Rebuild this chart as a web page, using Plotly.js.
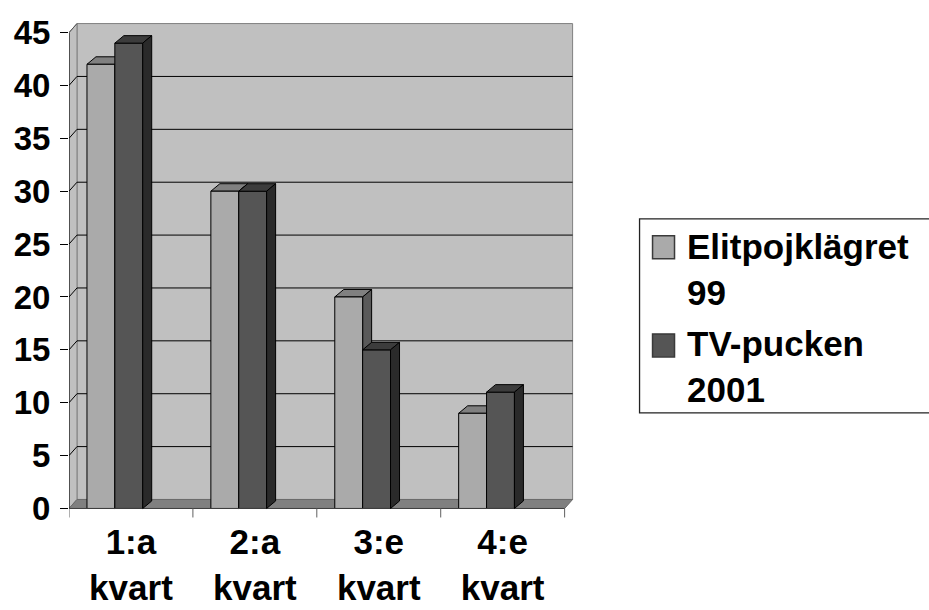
<!DOCTYPE html>
<html><head><meta charset="utf-8">
<script src="https://cdn.plot.ly/plotly-3.0.1.min.js"></script>
<style>html,body{margin:0;padding:0;background:#fff}#chart{width:929px;height:610px}</style>
</head><body><div id="chart"></div>
<script>
// ---- data ----
const categories = ["1:a<br>kvart", "2:a<br>kvart", "3:e<br>kvart", "4:e<br>kvart"];
const seriesNames = ["Elitpojklägret<br>99", "TV-pucken<br>2001"];
const elitValues = [42, 30, 20, 9];
const tvValues = [44, 30, 15, 11];
const yTickVals = [0, 5, 10, 15, 20, 25, 30, 35, 40, 45];
const yTickText = ["0", "5", "10", "15", "20", "25", "30", "35", "40", "45"];

// ---- layout geometry ----
const W = 929, H = 610;
const mL = 69, mT = 22.3, mB = 92, mR = 351.6;
const xRange = [-0.5, 3.6], yRange = [-0.9, 46];
const plotW = W - mL - mR, plotH = H - mT - mB;
const pxX = plotW / (xRange[1] - xRange[0]);
const pxY = plotH / (yRange[1] - yRange[0]);
const wallDx = 8 / pxX, wallDy = 9 / pxY;     // back wall offset
const barDx = 9 / pxX, barDy = 7.5 / pxY;     // bar depth
const barW = 0.225;
const offs = [-0.355, -0.13];
const xs = categories.map((c, i) => i);
const nCat = categories.length;
const yMax = yTickVals[yTickVals.length - 1];

const FONT = "Liberation Sans, Arial, Helvetica, sans-serif";
const fronts = ["#aaaaaa", "#555555"];
const tops = ["#808080", "#3c3c3c"];
const sides = ["#5a5a5a", "#2a2a2a"];
const allValues = [elitValues, tvValues];

// pixel -> paper helpers (for legend box only)
const pX = px => (px - mL) / plotW;
const pY = py => (H - mB - py) / plotH;

const shapes = [];
const L0 = -0.5, L1 = nCat - 0.5;
// back wall
shapes.push({type: "rect", xref: "x", yref: "y", layer: "below",
  x0: L0 + wallDx, x1: L1 + wallDx, y0: wallDy, y1: yMax + wallDy,
  fillcolor: "#c0c0c0", line: {color: "#808080", width: 1}});
// left wall
shapes.push({type: "path", xref: "x", yref: "y", layer: "below",
  path: `M${L0},0 L${L0 + wallDx},${wallDy} L${L0 + wallDx},${yMax + wallDy} L${L0},${yMax} Z`,
  fillcolor: "#c0c0c0", line: {color: "#808080", width: 1}});
// floor
shapes.push({type: "path", xref: "x", yref: "y", layer: "below",
  path: `M${L0},0 L${L1},0 L${L1 + wallDx},${wallDy} L${L0 + wallDx},${wallDy} Z`,
  fillcolor: "#808080", line: {color: "#6a6a6a", width: 1}});
// gridlines on back wall + left wall
yTickVals.forEach(v => {
  if (v > 0 && v < yMax) {
    shapes.push({type: "line", xref: "x", yref: "y", layer: "below",
      x0: L0 + wallDx, x1: L1 + wallDx, y0: v + wallDy, y1: v + wallDy,
      line: {color: "#000000", width: 1}});
  }
  if (v > 0) {
    shapes.push({type: "line", xref: "x", yref: "y", layer: "below",
      x0: L0, x1: L0 + wallDx, y0: v, y1: v + wallDy,
      line: {color: v < yMax ? "#000000" : "#555555", width: 1}});
  }
});
// front axes
shapes.push({type: "line", xref: "x", yref: "y", layer: "below",
  x0: L0, x1: L0, y0: 0, y1: yMax, line: {color: "#000000", width: 1}});
shapes.push({type: "line", xref: "x", yref: "y", layer: "above",
  x0: L0, x1: L1, y0: 0, y1: 0, line: {color: "#404040", width: 1}});
// category boundary ticks
for (let i = 0; i <= nCat; i++) {
  shapes.push({type: "line", xref: "x", yref: "y", layer: "above",
    x0: L0 + i, x1: L0 + i, y0: 0, y1: -0.85, line: {color: "#606060", width: 1}});
}
// 3D faces for bars
allValues.forEach((vals, s) => {
  vals.forEach((v, i) => {
    const x0 = xs[i] + offs[s], x1 = x0 + barW;
    const layer = s === 0 ? "below" : "above";
    shapes.push({type: "path", xref: "x", yref: "y", layer,
      path: `M${x0},${v} L${x0 + barDx},${v + barDy} L${x1 + barDx},${v + barDy} L${x1},${v} Z`,
      fillcolor: tops[s], line: {color: "#000000", width: 1}});
    shapes.push({type: "path", xref: "x", yref: "y", layer,
      path: `M${x1},0 L${x1 + barDx},${barDy} L${x1 + barDx},${v + barDy} L${x1},${v} Z`,
      fillcolor: sides[s], line: {color: "#000000", width: 1}});
  });
});
// legend box + swatches
shapes.push({type: "rect", xref: "paper", yref: "paper", layer: "above",
  x0: pX(640), x1: pX(940), y0: pY(413), y1: pY(219),
  fillcolor: "rgba(255,255,255,0)", line: {color: "#222222", width: 1.3}});
const swatchTop = [236, 334];
const legendMid = [269.5, 367];
const annotations = [];
seriesNames.forEach((n, s) => {
  shapes.push({type: "rect", xref: "paper", yref: "paper", layer: "above",
    x0: pX(653), x1: pX(675), y0: pY(swatchTop[s] + 23), y1: pY(swatchTop[s]),
    fillcolor: fronts[s], line: {color: "#3a3a3a", width: 1.5}});
  annotations.push({xref: "paper", yref: "paper", x: pX(685), y: pY(legendMid[s]),
    xanchor: "left", yanchor: "middle", align: "left", showarrow: false, text: n,
    font: {family: FONT, size: 35, color: "#000", weight: "bold"}});
});

const traces = allValues.map((vals, s) => ({
  type: "bar", x: xs, y: vals, name: seriesNames[s].replace("<br>", " "),
  width: barW, offset: offs[s],
  marker: {color: fronts[s], line: {color: "#000000", width: 1}},
  hoverinfo: "skip", showlegend: false
}));

const layout = {
  width: W, height: H, autosize: false,
  margin: {l: mL, r: mR, t: mT, b: mB, pad: 0},
  paper_bgcolor: "#ffffff", plot_bgcolor: "rgba(0,0,0,0)",
  barmode: "overlay", showlegend: false,
  xaxis: {range: xRange, tickvals: xs, ticktext: categories, ticks: "",
    showgrid: false, zeroline: false, showline: false, fixedrange: true,
    ticklabelstandoff: 0,
    tickfont: {family: FONT, size: 35, color: "#000", weight: "bold"}},
  yaxis: {range: yRange, tickvals: yTickVals, ticktext: yTickText, ticks: "outside",
    ticklen: 8, tickcolor: "#000", tickwidth: 1, ticklabelstandoff: 3,
    showgrid: false, zeroline: false, showline: false, fixedrange: true,
    tickfont: {family: FONT, size: 33, color: "#000", weight: "bold"}},
  shapes, annotations
};
Plotly.newPlot("chart", traces, layout, {displayModeBar: false, staticPlot: true});
</script></body></html>
